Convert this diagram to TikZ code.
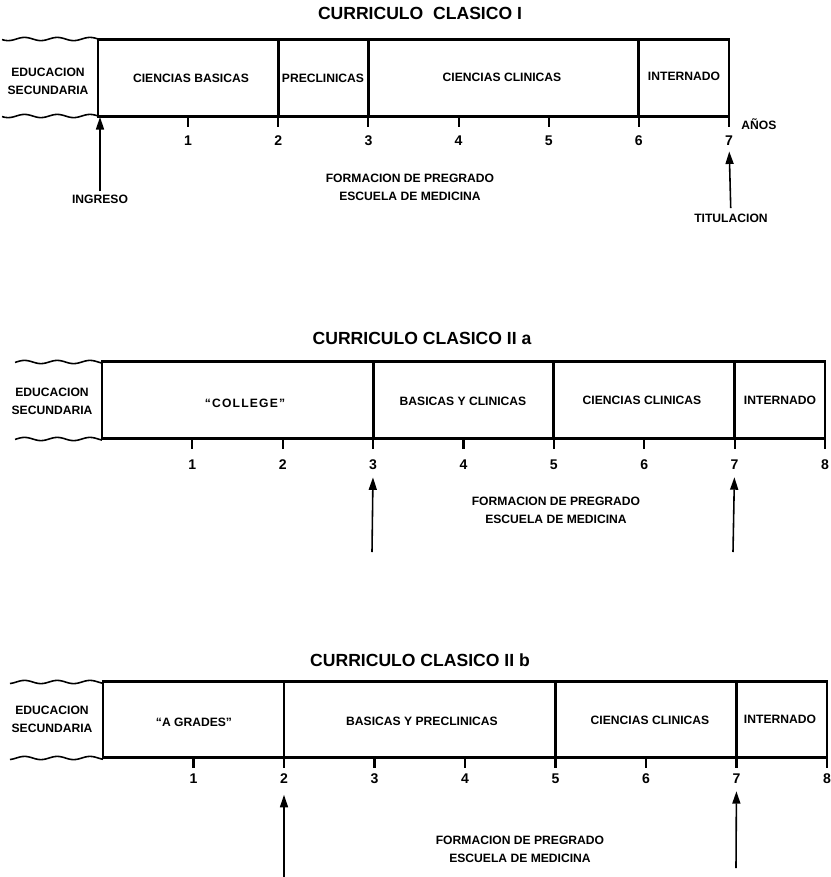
\documentclass[tikz,border=0pt]{standalone}
\usepackage{fontspec}
\setmainfont{Liberation Sans}
\usetikzlibrary{arrows.meta}

\begin{document}
\begin{tikzpicture}[x=0.02cm,y=-0.02cm,
    ttl/.style={font=\fontsize{10}{12}\selectfont\bfseries,inner sep=0pt},
    lbl/.style={font=\fontsize{6.9}{9.6}\selectfont\bfseries,align=center,inner sep=0pt},
    two/.style={lbl,font=\fontsize{6.9}{10.2}\selectfont\bfseries},
    num/.style={font=\fontsize{8}{9}\selectfont\bfseries,inner sep=0pt},
    frame/.style={line width=1.7pt},
    tick/.style={line width=1.2pt},
    wave/.style={line width=0.9pt},
    arr/.style={-{Triangle[length=2.5mm,width=1.6mm]},line width=0.9pt}]
  \useasboundingbox (0,0) rectangle (831,877);

  \node[ttl] (t1) at (420,13) {CURRICULO\ \ CLASICO I};
  \draw[wave] plot[domain=2:98,samples=60,smooth] (\x,{39+1.6*sin(11*\x)});
  \draw[wave] plot[domain=2:98,samples=60,smooth] (\x,{116+1.6*sin(11*\x)});
  \draw[frame] (98,39) rectangle (729,116);
  \foreach \n in {2,3,6}
    \draw[frame] ({98+90.14*\n},39) -- ({98+90.14*\n},116);
  \foreach \n in {1,...,7} {
    \draw[tick] ({98+90.14*\n},116) -- ({98+90.14*\n},127);
    \node[num] (ya\n) at ({98+90.14*\n},141) {\n};
  }
  \node[two] (sec1) at (48,81) {EDUCACION\\SECUNDARIA};
  \node[lbl] (cb1) at (191,78) {CIENCIAS BASICAS};
  \node[lbl] (pc1) at (323,78) {PRECLINICAS};
  \node[lbl] (cc1) at (502,77) {CIENCIAS CLINICAS};
  \node[lbl] (in1) at (684,76) {INTERNADO};
  \node[lbl,anchor=west] (anos) at (741,124) {AÑOS};
  \node[two] (form1) at (410,187) {FORMACION DE PREGRADO\\ESCUELA DE MEDICINA};
  \node[lbl] (ingreso) at (100,199) {INGRESO};
  \node[lbl] (titul) at (731,218) {TITULACION};
  \coordinate (c0) at (100,117);
  \draw[arr] (ingreso.north) ++(0,-3) coordinate (i0) (i0) -- (c0);
  \draw[arr,shorten <=3pt,shorten >=3pt] (titul) -- (ya7);

  \node[ttl] (t2) at (422,338) {CURRICULO CLASICO II a};
  \draw[wave] plot[domain=15:102,samples=60,smooth] (\x,{362+1.6*sin(11*\x)});
  \draw[wave] plot[domain=15:102,samples=60,smooth] (\x,{439+1.6*sin(11*\x)});
  \draw[frame] (102,361) rectangle (825,438);
  \foreach \n in {3,5,7}
    \draw[frame] ({102+90.375*\n},361) -- ({102+90.375*\n},438);
  \foreach \n in {1,...,8} {
    \draw[tick] ({102+90.375*\n},438) -- ({102+90.375*\n},449);
    \node[num] (yb\n) at ({102+90.375*\n},465) {\n};
  }
  \node[two] (sec2) at (52,401) {EDUCACION\\SECUNDARIA};
  \node[lbl] (col) at (245,403) {\addfontfeature{LetterSpace=10}``COLLEGE''};
  \node[lbl] (bc2) at (463,401) {BASICAS Y CLINICAS};
  \node[lbl] (cc2) at (642,400) {CIENCIAS CLINICAS};
  \node[lbl] (in2) at (780,400) {INTERNADO};
  \node[two] (form2) at (556,510) {FORMACION DE PREGRADO\\ESCUELA DE MEDICINA};
  \coordinate (e3) at (372,552);
  \coordinate (e7) at (733,552);
  \draw[arr,shorten >=4pt] (e3) -- (yb3);
  \draw[arr,shorten >=4pt] (e7) -- (yb7);

  \node[ttl] (t3) at (420,660) {CURRICULO CLASICO II b};
  \draw[wave] plot[domain=10:103,samples=60,smooth] (\x,{682+1.6*sin(11*\x)});
  \draw[wave] plot[domain=10:103,samples=60,smooth] (\x,{758+1.6*sin(11*\x)});
  \draw[frame] (103,681) rectangle (827,757);
  \foreach \n in {2,5,7}
    \draw[frame] ({103+90.5*\n},681) -- ({103+90.5*\n},757);
  \foreach \n in {1,...,8} {
    \draw[tick] ({103+90.5*\n},757) -- ({103+90.5*\n},768);
    \node[num] (yc\n) at ({103+90.5*\n},779) {\n};
  }
  \node[two] (sec3) at (52,719) {EDUCACION\\SECUNDARIA};
  \node[lbl] (ag) at (194,722) {``A GRADES''};
  \node[lbl] (bp3) at (422,721) {BASICAS Y PRECLINICAS};
  \node[lbl] (cc3) at (650,720) {CIENCIAS CLINICAS};
  \node[lbl] (in3) at (780,719) {INTERNADO};
  \node[two] (form3) at (520,849) {FORMACION DE PREGRADO\\ESCUELA DE MEDICINA};
  \coordinate (f2) at (284,877);
  \coordinate (f7) at (736,868);
  \draw[arr,shorten >=6pt] (f2) -- (yc2);
  \draw[arr,shorten >=4pt] (f7) -- (yc7);
\end{tikzpicture}
\end{document}
